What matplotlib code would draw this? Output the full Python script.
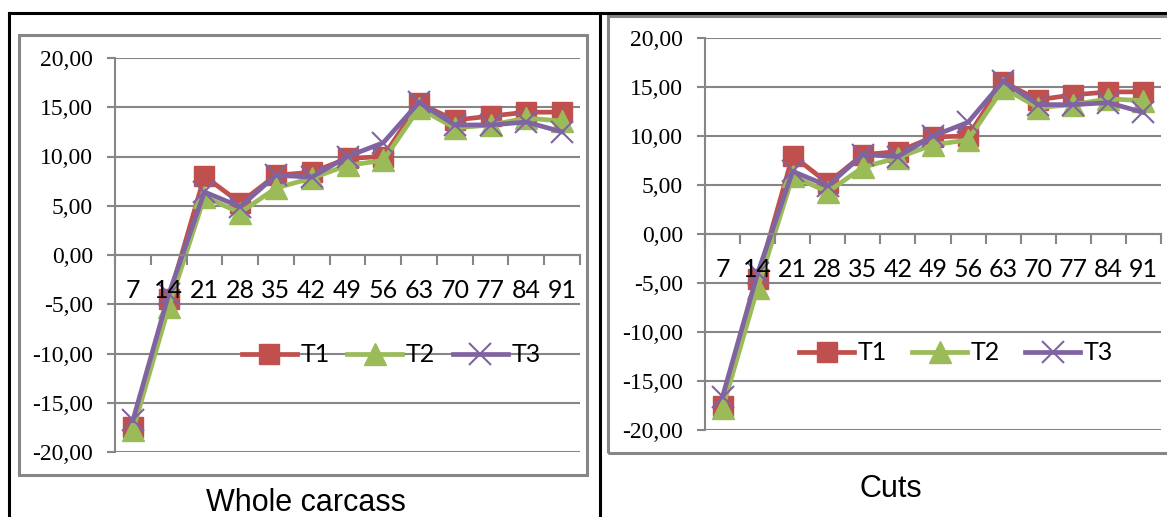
import numpy as np
import matplotlib
matplotlib.use("Agg")
import matplotlib.pyplot as plt
from matplotlib.lines import Line2D
from matplotlib.patches import Rectangle

# data
days = ["7", "14", "21", "28", "35", "42", "49", "56", "63", "70", "77", "84", "91"]
yticks = [-20, -15, -10, -5, 0, 5, 10, 15, 20]
ytick_labels = ["-20,00", "-15,00", "-10,00", "-5,00", "0,00", "5,00", "10,00", "15,00", "20,00"]

whole_t1 = [-17.5, -4.5, 8.0, 5.3, 8.1, 8.4, 9.8, 10.0, 15.4, 13.7, 14.1, 14.5, 14.5]
whole_t2 = [-17.8, -5.3, 5.9, 4.3, 6.8, 7.8, 9.1, 9.6, 14.9, 12.9, 13.2, 13.9, 13.6]
whole_t3 = [-16.8, -4.0, 6.4, 4.9, 8.1, 7.9, 10.0, 11.4, 15.5, 13.2, 13.2, 13.5, 12.5]

cuts_t1 = [-17.5, -4.6, 8.0, 5.2, 8.1, 8.4, 9.9, 10.0, 15.5, 13.7, 14.2, 14.5, 14.5]
cuts_t2 = [-17.8, -5.5, 5.9, 4.3, 6.8, 7.8, 9.1, 9.6, 14.9, 12.9, 13.2, 13.8, 13.6]
cuts_t3 = [-16.6, -4.0, 6.4, 4.9, 8.1, 7.9, 10.0, 11.4, 15.6, 13.2, 13.2, 13.4, 12.4]

red = "#C0504D"
green = "#9BBB59"
purple = "#8064A2"
grid_c = "#868686"

W, H = 1167, 517
fig = plt.figure(figsize=(W / 100, H / 100), dpi=100)


def rect(x0, y0, x1, y1):
    # pixel box -> figure fraction
    return [x0 / W, 1 - y1 / H, (x1 - x0) / W, (y1 - y0) / H]


def draw_panel(ax, t1, t2, t3, leg_xy, colspace):
    x = np.arange(len(days))
    ax.set_axisbelow(False)  # tick labels sit on top of the lines, like Excel
    for v in yticks:
        ax.axhline(v, color=grid_c, lw=1.5, zorder=0.5)
    ax.plot(x, t1, color=red, lw=3.4, marker="s", ms=15, label="T1", clip_on=False, zorder=2)
    ax.plot(x, t2, color=green, lw=3.4, marker="^", ms=16, label="T2", clip_on=False, zorder=2.1)
    ax.plot(x, t3, color=purple, lw=3.4, marker="x", ms=16, mew=1.5, label="T3",
            clip_on=False, zorder=2.2)
    ax.set_xlim(-0.5, len(days) - 0.5)
    ax.set_ylim(-20, 20)

    ax.set_yticks(yticks)
    ax.set_yticklabels(ytick_labels)
    ax.tick_params(axis="y", length=6, width=1.5, color=grid_c, pad=10,
                   labelsize=17, labelfontfamily="Liberation Serif")

    ax.set_xticks(x)
    ax.set_xticklabels(days)
    ax.set_xticks(np.arange(len(days) + 1) - 0.5, minor=True)
    ax.tick_params(axis="x", which="major", length=0, pad=17,
                   labelsize=18, labelfontfamily="Lato")
    ax.tick_params(axis="x", which="minor", length=7, width=1.5, color=grid_c, direction="out")

    for s in ["top", "right"]:
        ax.spines[s].set_visible(False)
    ax.spines["left"].set_color(grid_c)
    ax.spines["left"].set_linewidth(1.5)
    ax.spines["bottom"].set_position(("data", 0))
    ax.spines["bottom"].set_color(grid_c)
    ax.spines["bottom"].set_linewidth(1.5)

    ax.legend(loc="center", bbox_to_anchor=(leg_xy[0] / W, 1 - leg_xy[1] / H),
              bbox_transform=fig.transFigure, ncol=3, frameon=False,
              handlelength=2.2, handletextpad=0.15, columnspacing=colspace,
              prop={"family": "Lato", "size": 18})


# frame of the table
line_kw = dict(color="black", lw=2.2, transform=fig.transFigure)
fig.add_artist(Line2D([9 / W, 9 / W], [0, 1 - 13 / H], **line_kw))
fig.add_artist(Line2D([9 / W, 1], [1 - 13 / H, 1 - 13 / H], **line_kw))
fig.add_artist(Line2D([600 / W, 600 / W], [0, 1 - 13 / H], **line_kw))

# chart area boxes
box_kw = dict(fill=False, ec=grid_c, lw=2.2, transform=fig.transFigure)
b = rect(19, 35, 587, 475)
fig.add_artist(Rectangle((b[0], b[1]), b[2], b[3], **box_kw))
b = rect(608, 16, 1185, 453)
fig.add_artist(Rectangle((b[0], b[1]), b[2], b[3], **box_kw))

ax1 = fig.add_axes(rect(115, 58, 580, 452))
draw_panel(ax1, whole_t1, whole_t2, whole_t3, (391, 355), 0.7)

ax2 = fig.add_axes(rect(705, 38, 1161, 430))
draw_panel(ax2, cuts_t1, cuts_t2, cuts_t3, (956, 353), 1.0)

fig.text(306 / W, 1 - 511 / H, "Whole carcass", ha="center", va="baseline",
         fontfamily="Liberation Sans", fontsize=22)
fig.text(891 / W, 1 - 497 / H, "Cuts", ha="center", va="baseline",
         fontfamily="Liberation Sans", fontsize=22)

fig.savefig("out.png", dpi=100)
